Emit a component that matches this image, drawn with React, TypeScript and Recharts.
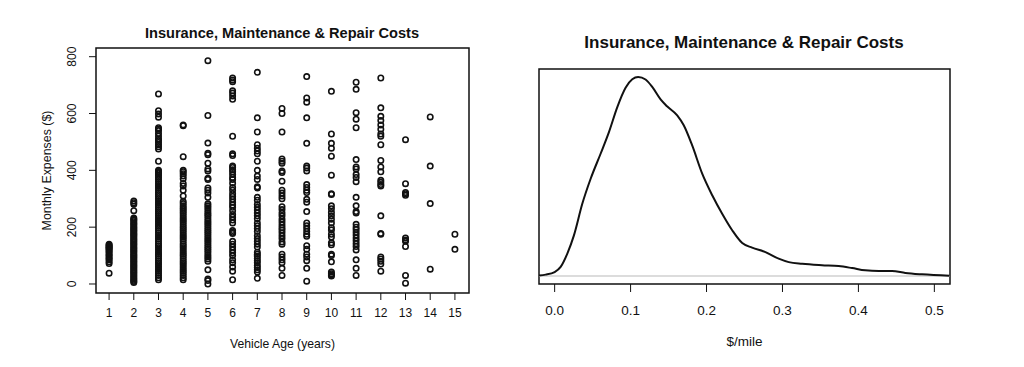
import React from "react"
import {
  ScatterChart,
  Scatter,
  LineChart,
  Line,
  XAxis,
  YAxis,
  ReferenceArea,
  ReferenceLine,
} from "recharts"

// vehicle age categories (years)
const ages = [1, 2, 3, 4, 5, 6, 7, 8, 9, 10, 11, 12, 13, 14, 15]

// monthly expenses ($), one list per vehicle age
const costsAge1 = [140, 137, 133, 130, 127, 124, 120, 115, 110, 105, 100, 95, 90, 85, 78, 72, 38]
const costsAge2 = [
  292, 286, 281, 258, 232, 228, 224, 219, 214, 210, 205, 200, 196, 191, 187, 183, 178, 174, 170, 165,
  160, 156, 151, 147, 142, 138, 133, 128, 124, 119, 115, 110, 106, 101, 97, 92, 88, 83, 78, 74, 69,
  64, 60, 55, 50, 46, 41, 37, 32, 27, 22, 18, 13, 9, 5,
]
const costsAge3 = [
  669, 610, 598, 587, 550, 545, 540, 530, 520, 510, 505, 498, 490, 483, 475, 432, 400, 396, 392, 388,
  382, 375, 368, 360, 352, 345, 338, 330, 322, 315, 308, 300, 292, 285, 278, 270, 262, 255, 248, 240,
  232, 225, 218, 210, 203, 196, 188, 180, 172, 165, 158, 150, 142, 135, 128, 120, 112, 105, 98, 90,
  82, 75, 68, 60, 52, 45, 38, 30, 22, 15,
]
const costsAge4 = [
  560, 557, 448, 400, 395, 388, 380, 370, 354, 345, 330, 310, 290, 283, 275, 268, 262, 255, 248, 240,
  232, 225, 218, 210, 202, 195, 188, 180, 172, 165, 158, 150, 142, 135, 128, 120, 112, 105, 98, 90,
  82, 75, 68, 60, 52, 45, 38, 30, 22, 15,
]
const costsAge5 = [
  786, 593, 496, 460, 455, 425, 405, 398, 372, 368, 338, 330, 320, 305, 282, 275, 268, 260, 252, 245,
  238, 230, 222, 215, 208, 200, 192, 185, 178, 170, 162, 155, 148, 140, 132, 125, 118, 110, 102, 95,
  88, 80, 50, 18, 12, 0,
]
const costsAge6 = [
  725, 718, 712, 680, 672, 662, 650, 520, 458, 452, 415, 410, 402, 395, 385, 375, 368, 355, 340, 330,
  318, 308, 298, 288, 278, 270, 258, 245, 235, 225, 215, 188, 182, 178, 150, 140, 130, 120, 110, 100,
  85, 75, 60, 45, 15,
]
const costsAge7 = [
  745, 585, 535, 490, 478, 468, 458, 432, 400, 380, 368, 342, 338, 305, 295, 280, 270, 260, 250, 240,
  230, 215, 205, 195, 185, 170, 160, 150, 140, 130, 112, 105, 98, 90, 82, 75, 65, 58, 50, 42, 20,
]
const costsAge8 = [
  618, 600, 535, 440, 432, 425, 398, 392, 362, 330, 320, 310, 300, 272, 262, 250, 240, 228, 218, 208,
  198, 190, 180, 170, 160, 148, 140, 105, 95, 85, 75, 55, 30,
]
const costsAge9 = [
  730, 655, 640, 585, 495, 415, 408, 398, 350, 340, 330, 322, 298, 288, 255, 215, 205, 195, 185, 175,
  168, 135, 122, 105, 95, 82, 55, 10,
]
const costsAge10 = [
  678, 528, 495, 478, 450, 383, 318, 315, 275, 265, 252, 240, 228, 215, 198, 190, 175, 165, 145, 138,
  105, 100, 78, 42, 36, 32, 28,
]
const costsAge11 = [
  710, 685, 603, 580, 550, 438, 412, 405, 385, 375, 360, 305, 275, 255, 250, 210, 200, 192, 182, 172,
  162, 152, 142, 132, 120, 85, 55, 30,
]
const costsAge12 = [
  725, 620, 590, 575, 560, 545, 528, 520, 490, 435, 412, 395, 365, 358, 350, 345, 240, 178, 175, 95,
  88, 80, 70, 45,
]
const costsAge13 = [508, 353, 322, 318, 312, 162, 155, 150, 132, 30, 3]
const costsAge14 = [588, 415, 283, 52]
const costsAge15 = [175, 122]

const costsByAge = [
  costsAge1, costsAge2, costsAge3, costsAge4, costsAge5, costsAge6, costsAge7, costsAge8,
  costsAge9, costsAge10, costsAge11, costsAge12, costsAge13, costsAge14, costsAge15,
]

const costTicks = [0, 200, 400, 600, 800]

// kernel density of $/mile (y axis is unlabeled)
const densityX = [
  -0.0206, -0.0118, 0, 0.0079, 0.0167, 0.0254, 0.0364, 0.0474, 0.0605, 0.0715, 0.0825, 0.0934,
  0.1022, 0.11, 0.1197, 0.1285, 0.1395, 0.148, 0.1614, 0.17, 0.181, 0.1943, 0.2075, 0.2206, 0.2338,
  0.247, 0.26, 0.2776, 0.295, 0.3083, 0.326, 0.352, 0.374, 0.3917, 0.409, 0.4268, 0.4443, 0.4618,
  0.4838, 0.5202,
]
const densityY = [
  0.02, 0.05, 0.14, 0.32, 0.79, 1.43, 2.54, 3.42, 4.3, 5.06, 5.94, 6.62, 6.92, 7.0, 6.91, 6.65, 6.21,
  5.97, 5.65, 5.3, 4.6, 3.6, 2.84, 2.19, 1.61, 1.16, 1.0, 0.84, 0.61, 0.49, 0.43, 0.38, 0.35, 0.28,
  0.2, 0.18, 0.18, 0.11, 0.06, 0.01,
]
const mileTicks = [0, 0.1, 0.2, 0.3, 0.4, 0.5]

const scatterData = ages.flatMap((age, i) => costsByAge[i].map((cost) => ({ age, cost })))
const densityData = densityX.map((x, i) => ({ x, d: densityY[i] }))

const FONT = '"Liberation Sans", Arial, Helvetica, sans-serif'
const INK = "#111"

const ageDomain: [number, number] = [0.47, 15.57]
const costDomain: [number, number] = [-31.7, 830.6]
const mileDomain: [number, number] = [-0.0206, 0.5206]
const densDomain: [number, number] = [-0.28, 7.28]

const Ring = (props: any) => {
  if (props.cx == null || props.cy == null) return <g />
  return <circle cx={props.cx} cy={props.cy} r={2.7} fill="none" stroke={INK} strokeWidth={1.6} />
}

const CostTick = (props: any) => {
  const { x, y, payload } = props
  return (
    <text
      x={x - 15}
      y={y}
      transform={`rotate(-90 ${x - 15} ${y})`}
      textAnchor="middle"
      dominantBaseline="central"
      fontSize={12}
      fontFamily={FONT}
      fill={INK}
    >
      {payload.value}
    </text>
  )
}

const costLabel = (props: any) => {
  const vb = props.viewBox
  const x = vb.x - 9
  const y = vb.y + vb.height / 2
  return (
    <text
      x={x}
      y={y}
      transform={`rotate(-90 ${x} ${y})`}
      textAnchor="middle"
      dominantBaseline="central"
      fontSize={12.4}
      fontFamily={FONT}
      fill={INK}
    >
      Monthly Expenses ($)
    </text>
  )
}

const titleStyle: React.CSSProperties = {
  position: "absolute",
  fontFamily: FONT,
  fontWeight: "bold",
  color: INK,
  transform: "translate(-50%, -50%)",
  whiteSpace: "nowrap",
}

export default function App() {
  return (
    <div style={{ position: "absolute", left: 0, top: 0, width: 1024, height: 367, background: "#fff" }}>
      <div style={{ ...titleStyle, left: 282, top: 33, fontSize: 14.6 }}>
        Insurance, Maintenance &amp; Repair Costs
      </div>
      <div style={{ ...titleStyle, left: 744, top: 43, fontSize: 17 }}>
        Insurance, Maintenance &amp; Repair Costs
      </div>

      <div style={{ position: "absolute", left: 0, top: 0 }}>
        <ScatterChart width={512} height={367} margin={{ top: 48, right: 43, bottom: 34, left: 56 }}>
          <XAxis
            type="number"
            dataKey="age"
            domain={ageDomain}
            ticks={ages}
            interval={0}
            allowDataOverflow
            axisLine={false}
            tickSize={7}
            tickMargin={8}
            height={40}
            tick={{ fontSize: 12, fontFamily: FONT, fill: INK }}
            tickLine={{ stroke: INK }}
            label={{ value: "Vehicle Age (years)", position: "bottom", offset: 6, fontSize: 12.2, fontFamily: FONT, fill: INK }}
          />
          <YAxis
            type="number"
            dataKey="cost"
            domain={costDomain}
            ticks={costTicks}
            allowDataOverflow
            axisLine={false}
            tickSize={7}
            width={40}
            tick={<CostTick />}
            tickLine={{ stroke: INK }}
            label={{ content: costLabel }}
          />
          <ReferenceArea
            x1={ageDomain[0]}
            x2={ageDomain[1]}
            y1={costDomain[0]}
            y2={costDomain[1]}
            fill="none"
            stroke={INK}
            strokeWidth={1.5}
            fillOpacity={0}
          />
          <Scatter data={scatterData} shape={<Ring />} isAnimationActive={false} />
        </ScatterChart>
      </div>

      <div style={{ position: "absolute", left: 512, top: 0 }}>
        <LineChart width={512} height={367} data={densityData} margin={{ top: 69, right: 74, bottom: 33, left: 27 }}>
          <XAxis
            type="number"
            dataKey="x"
            domain={mileDomain}
            ticks={mileTicks}
            interval={0}
            allowDataOverflow
            axisLine={false}
            tickSize={8}
            tickMargin={13}
            height={50}
            tickFormatter={(v: number) => v.toFixed(1)}
            tick={{ fontSize: 13.5, fontFamily: FONT, fill: INK }}
            tickLine={{ stroke: INK }}
            label={{ value: "$/mile", position: "bottom", offset: 2, fontSize: 13.5, fontFamily: FONT, fill: INK }}
          />
          <YAxis hide type="number" domain={densDomain} allowDataOverflow />
          <ReferenceLine y={0} stroke="#d0d0d0" strokeWidth={1.5} />
          <ReferenceArea
            x1={mileDomain[0]}
            x2={mileDomain[1]}
            y1={densDomain[0]}
            y2={densDomain[1]}
            fill="none"
            fillOpacity={0}
            stroke={INK}
            strokeWidth={1.5}
          />
          <Line
            type="monotone"
            dataKey="d"
            stroke={INK}
            strokeWidth={2}
            dot={false}
            isAnimationActive={false}
          />
        </LineChart>
      </div>
    </div>
  )
}
